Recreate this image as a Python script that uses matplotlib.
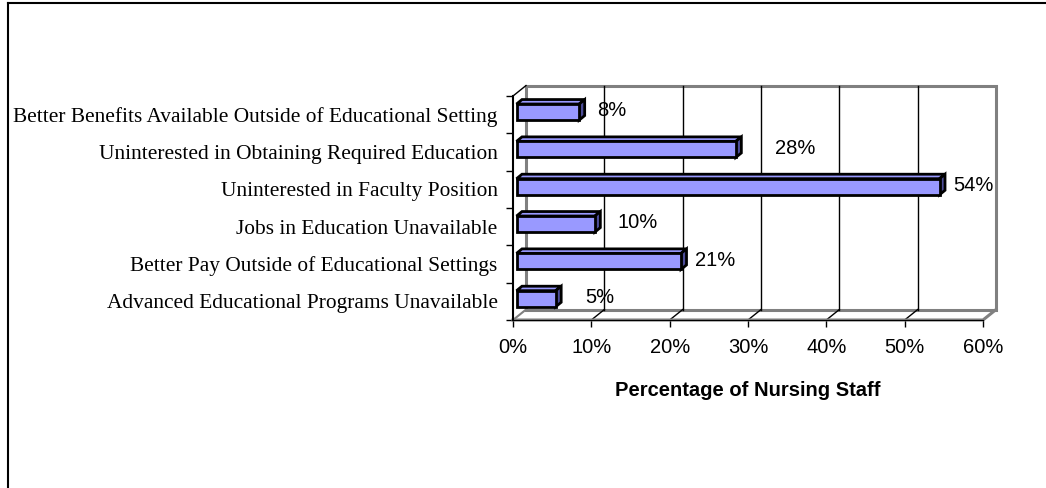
import numpy as np
import matplotlib.pyplot as plt
from matplotlib.patches import Polygon
from matplotlib.lines import Line2D

# data (bottom to top)
categories = ['Advanced Educational Programs Unavailable',
              'Better Pay Outside of Educational Settings',
              'Jobs in Education Unavailable',
              'Uninterested in Faculty Position',
              'Uninterested in Obtaining Required Education',
              'Better Benefits Available Outside of Educational Setting']
values = [5, 21, 10, 54, 28, 8]
value_labels = ['5%', '21%', '10%', '54%', '28%', '8%']
xticks = [0, 10, 20, 30, 40, 50, 60]
xlabel = 'Percentage of Nursing Staff'

# where excel dropped the value labels (gap after bar end, in %)
label_gap = [4.2, 2.2, 3.4, 2.2, 5.4, 2.8]

W, H = 1046, 488
fig = plt.figure(figsize=(W / 100, H / 100), dpi=100)
ax = fig.add_axes([513 / W, (H - 320) / H, 470 / W, 224 / H])
ax.set_xlim(0, 60)
ax.set_ylim(0, 6)
for s in ax.spines.values():
    s.set_visible(False)

n = len(categories)
DX, DY = 1.66, 0.28          # depth of the wall
ox, oy = 0.45, 0.07          # bar front offset
bx, by = 0.7, 0.12           # bar depth
h = 0.43
gray = '#808080'

# back wall
ax.add_patch(Polygon([(DX, DY), (60 + DX, DY), (60 + DX, n + DY), (DX, n + DY)],
                     closed=True, fc='white', ec=gray, lw=2.2, clip_on=False, zorder=1))
for t in xticks[1:-1]:
    ax.add_line(Line2D([t + DX, t + DX], [DY, n + DY], color='black', lw=1, clip_on=False, zorder=1.5))
    ax.add_line(Line2D([t, t + DX], [0, DY], color='black', lw=1, clip_on=False, zorder=1.5))

# floor and left wall edges
ax.add_line(Line2D([0, 60, 60 + DX], [0, 0, DY], color=gray, lw=2.2, clip_on=False, zorder=2))
ax.add_line(Line2D([0, 60], [0, 0], color='black', lw=0.8, clip_on=False, zorder=2.1))
ax.add_line(Line2D([0, DX], [0, DY], color=gray, lw=1.5, clip_on=False, zorder=2))
ax.add_line(Line2D([0, DX], [n, n + DY], color='black', lw=1, clip_on=False, zorder=2))
ax.add_line(Line2D([0, 0], [0, n], color='black', lw=1.5, clip_on=False, zorder=3))

# bars
for i, v in enumerate(values):
    x0, x1 = ox, v + ox
    y0 = i + 0.5 - h / 2 + oy
    y1 = y0 + h
    top = [(x0, y1), (x1, y1), (x1 + bx, y1 + by), (x0 + bx, y1 + by)]
    side = [(x1, y0), (x1 + bx, y0 + by), (x1 + bx, y1 + by), (x1, y1)]
    front = [(x0, y0), (x1, y0), (x1, y1), (x0, y1)]
    ax.add_patch(Polygon(top, closed=True, fc='#9999FF', ec='black', lw=2, clip_on=False, zorder=4))
    ax.add_patch(Polygon(side, closed=True, fc='#4D4D99', ec='black', lw=2, clip_on=False, zorder=4))
    ax.add_patch(Polygon(front, closed=True, fc='#9999FF', ec='black', lw=2, clip_on=False, zorder=4))
    ax.text(v + label_gap[i], i + 0.6, value_labels[i], ha='left', va='center',
            fontsize=14.5, family='Liberation Sans', zorder=5)

# axes ticks
ax.set_xticks(xticks)
ax.set_xticklabels([f'{t}%' for t in xticks], fontsize=14.5, family='Liberation Sans')
ax.tick_params(axis='x', direction='out', length=5, width=1, pad=8)
ax.set_yticks(np.arange(n) + 0.5)
ax.set_yticklabels(categories, fontsize=15.4, family='Liberation Serif')
ax.tick_params(axis='y', length=0, pad=11)
ax.set_yticks(np.arange(n + 1), minor=True)
ax.tick_params(axis='y', which='minor', direction='out', length=5, width=1)
ax.set_xlabel(xlabel, fontsize=14.5, fontweight='bold', family='Liberation Sans', labelpad=17)

# chart area border (only left and top are in frame)
fig.add_artist(Line2D([8 / W, 8 / W], [0, 1 - 3 / H], color='black', lw=1.5, transform=fig.transFigure))
fig.add_artist(Line2D([8 / W, 1], [1 - 3 / H, 1 - 3 / H], color='black', lw=1.5, transform=fig.transFigure))

fig.savefig('out.png', dpi=100)
